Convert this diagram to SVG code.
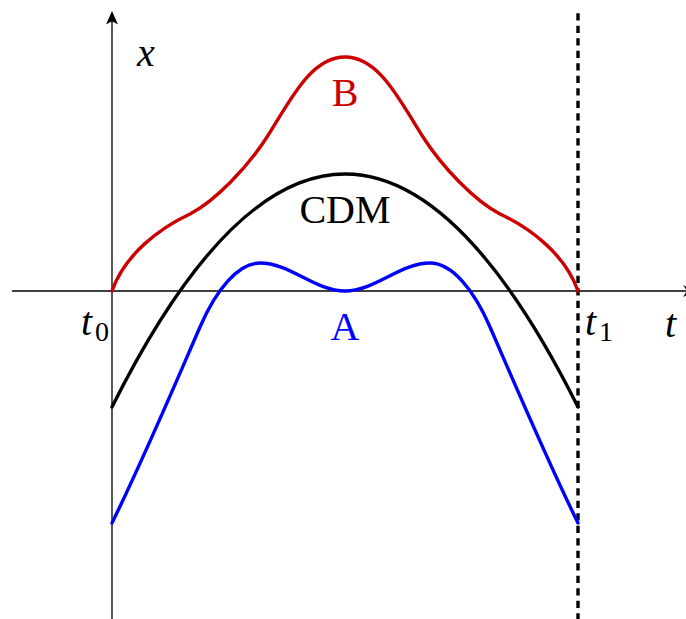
<svg xmlns="http://www.w3.org/2000/svg" width="686" height="619" viewBox="0 0 686 619">
<style>
.ax{stroke:#000;stroke-width:1.3;fill:none}
.ah{fill:#000;stroke:none}
.crv{fill:none;stroke-width:3.4;stroke-linecap:round;stroke-linejoin:round}
.lbl{font-family:"Liberation Serif","DejaVu Serif",serif;font-size:40px}
.it{font-style:italic}
.sub{font-family:"Liberation Serif","DejaVu Serif",serif;font-size:28px}
</style>
<rect width="686" height="619" fill="#fff"/>
<g id="axes">
<line class="ax" x1="12" y1="291" x2="688" y2="291"/>
<path class="ah" d="M696,291 L683,285 Q686,289 686.5,291 Q686,293 683,297 Z"/>
<line class="ax" x1="112" y1="619" x2="112" y2="20"/>
<path class="ah" d="M112,11 L106,24.5 Q110,22 112,21.5 Q114,22 118,24.5 Z"/>
</g>
<g id="t1-line">
<line x1="578" y1="13.3" x2="578" y2="619" stroke="#000" stroke-width="3.4" stroke-dasharray="7.3 5.2"/>
</g>
<g id="connectors">
<path id="curve-B" class="crv" stroke="#cc0000" d="M112,291 C125,254 160,228 190,214 C215,201 247,168 267,137 C289,103 310,57 345,57 C380,57 401,103 423,137 C443,168 475,201 500,214 C530,228 565,254 578,291"/>
<path id="curve-CDM" class="crv" stroke="#000" d="M112,407 Q345,-59 578,407"/>
<path id="curve-A" class="crv" stroke="#0000ff" d="M112,523 C142,462 170,396 200,327 C216,290 238,263 260,263 C290,263 315,291 345,291 C375,291 400,263 430,263 C452,263 474,290 490,327 C520,396 548,462 578,523"/>
</g>
<g id="labels">
<text class="lbl it" x="146" y="66" text-anchor="middle">x</text>
<text class="lbl" x="345" y="106" text-anchor="middle" fill="#cc0000">B</text>
<text class="lbl" x="345" y="223" text-anchor="middle">CDM</text>
<text class="lbl" x="345" y="340" text-anchor="middle" fill="#0000ff">A</text>
<text class="lbl it" x="81" y="335">t</text><text class="sub" x="95" y="341">0</text>
<text class="lbl it" x="585" y="335">t</text><text class="sub" x="599" y="341">1</text>
<text class="lbl it" x="665" y="337">t</text>
</g>
</svg>
